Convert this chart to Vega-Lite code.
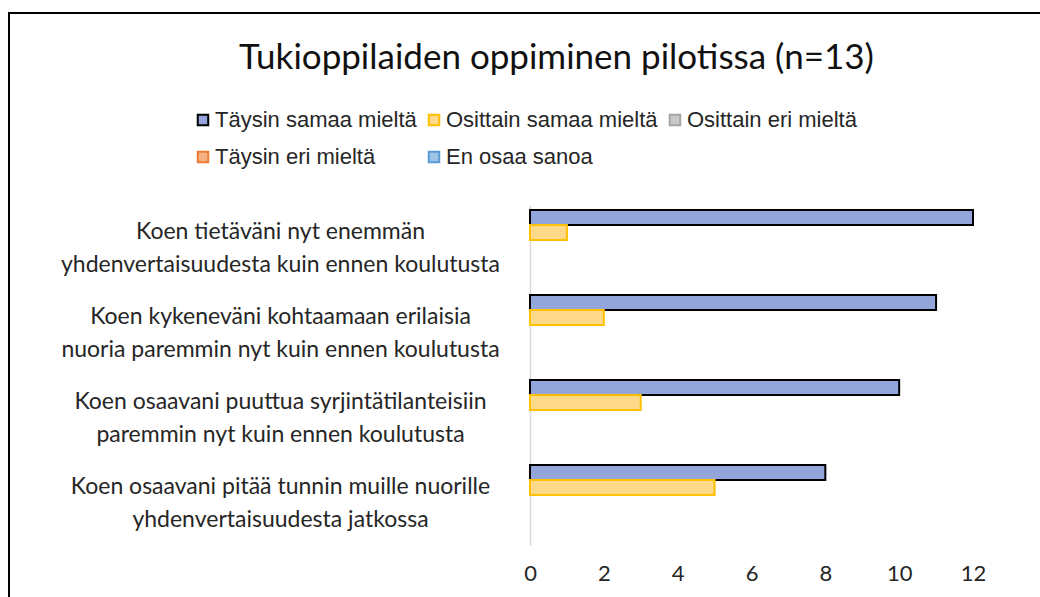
{
  "$schema": "https://vega.github.io/schema/vega-lite/v6.json",
  "autosize": {"type": "none"},
  "width": 1045,
  "height": 610,
  "padding": {"left": 9, "top": 13, "right": -14, "bottom": -26},
  "background": "white",
  "title": {
    "text": "Tukioppilaiden oppiminen pilotissa (n=13)",
    "font": "Lato",
    "fontSize": 35,
    "fontWeight": "normal",
    "color": "#111111",
    "frame": "group",
    "anchor": "middle",
    "baseline": "alphabetic",
    "offset": -59,
    "dy": 32,
    "dx": 25
  },
  "data": {
    "values": [
      {"kysymys": "Koen tietäväni nyt enemmän|yhdenvertaisuudesta kuin ennen koulutusta", "vastaus": "Täysin samaa mieltä", "lkm": 12},
      {"kysymys": "Koen tietäväni nyt enemmän|yhdenvertaisuudesta kuin ennen koulutusta", "vastaus": "Osittain samaa mieltä", "lkm": 1},
      {"kysymys": "Koen tietäväni nyt enemmän|yhdenvertaisuudesta kuin ennen koulutusta", "vastaus": "Osittain eri mieltä", "lkm": 0},
      {"kysymys": "Koen tietäväni nyt enemmän|yhdenvertaisuudesta kuin ennen koulutusta", "vastaus": "Täysin eri mieltä", "lkm": 0},
      {"kysymys": "Koen tietäväni nyt enemmän|yhdenvertaisuudesta kuin ennen koulutusta", "vastaus": "En osaa sanoa", "lkm": 0},
      {"kysymys": "Koen kykeneväni kohtaamaan erilaisia|nuoria paremmin nyt kuin ennen koulutusta", "vastaus": "Täysin samaa mieltä", "lkm": 11},
      {"kysymys": "Koen kykeneväni kohtaamaan erilaisia|nuoria paremmin nyt kuin ennen koulutusta", "vastaus": "Osittain samaa mieltä", "lkm": 2},
      {"kysymys": "Koen kykeneväni kohtaamaan erilaisia|nuoria paremmin nyt kuin ennen koulutusta", "vastaus": "Osittain eri mieltä", "lkm": 0},
      {"kysymys": "Koen kykeneväni kohtaamaan erilaisia|nuoria paremmin nyt kuin ennen koulutusta", "vastaus": "Täysin eri mieltä", "lkm": 0},
      {"kysymys": "Koen kykeneväni kohtaamaan erilaisia|nuoria paremmin nyt kuin ennen koulutusta", "vastaus": "En osaa sanoa", "lkm": 0},
      {"kysymys": "Koen osaavani puuttua syrjintätilanteisiin|paremmin nyt kuin ennen koulutusta", "vastaus": "Täysin samaa mieltä", "lkm": 10},
      {"kysymys": "Koen osaavani puuttua syrjintätilanteisiin|paremmin nyt kuin ennen koulutusta", "vastaus": "Osittain samaa mieltä", "lkm": 3},
      {"kysymys": "Koen osaavani puuttua syrjintätilanteisiin|paremmin nyt kuin ennen koulutusta", "vastaus": "Osittain eri mieltä", "lkm": 0},
      {"kysymys": "Koen osaavani puuttua syrjintätilanteisiin|paremmin nyt kuin ennen koulutusta", "vastaus": "Täysin eri mieltä", "lkm": 0},
      {"kysymys": "Koen osaavani puuttua syrjintätilanteisiin|paremmin nyt kuin ennen koulutusta", "vastaus": "En osaa sanoa", "lkm": 0},
      {"kysymys": "Koen osaavani pitää tunnin muille nuorille|yhdenvertaisuudesta jatkossa", "vastaus": "Täysin samaa mieltä", "lkm": 8},
      {"kysymys": "Koen osaavani pitää tunnin muille nuorille|yhdenvertaisuudesta jatkossa", "vastaus": "Osittain samaa mieltä", "lkm": 5},
      {"kysymys": "Koen osaavani pitää tunnin muille nuorille|yhdenvertaisuudesta jatkossa", "vastaus": "Osittain eri mieltä", "lkm": 0},
      {"kysymys": "Koen osaavani pitää tunnin muille nuorille|yhdenvertaisuudesta jatkossa", "vastaus": "Täysin eri mieltä", "lkm": 0},
      {"kysymys": "Koen osaavani pitää tunnin muille nuorille|yhdenvertaisuudesta jatkossa", "vastaus": "En osaa sanoa", "lkm": 0}
    ]
  },
  "mark": {"type": "bar"},
  "encoding": {
    "y": {
      "field": "kysymys",
      "type": "nominal",
      "sort": null,
      "scale": {"range": [192, 532], "paddingInner": 0.1176, "paddingOuter": 0.0588},
      "axis": {
        "title": null,
        "orient": "left",
        "offset": -521,
        "ticks": false,
        "domain": true,
        "domainColor": "#d9d9d9",
        "domainWidth": 1.5,
        "labelExpr": "split(datum.value, '|')",
        "labelAlign": "center",
        "labelBaseline": "middle",
        "labelPadding": 250,
        "labelOffset": -16,
        "labelLimit": 600,
        "labelFont": "Lato",
        "labelFontSize": 23,
        "labelLineHeight": 33,
        "labelColor": "#262626"
      }
    },
    "yOffset": {
      "field": "vastaus",
      "type": "nominal",
      "sort": null,
      "scale": {"domain": ["Täysin samaa mieltä", "Osittain samaa mieltä", "Osittain eri mieltä", "Täysin eri mieltä", "En osaa sanoa"], "paddingInner": 0, "paddingOuter": 0}
    },
    "x": {
      "field": "lkm",
      "type": "quantitative",
      "scale": {"domain": [0, 12], "range": [521, 964], "nice": false},
      "axis": {
        "title": null,
        "values": [0, 2, 4, 6, 8, 10, 12],
        "grid": false,
        "domain": false,
        "ticks": false,
        "offset": -64,
        "labelPadding": 4,
        "labelFlush": false,
        "labelFont": "Lato",
        "labelFontSize": 22,
        "labelColor": "#262626"
      }
    },
    "color": {
      "field": "vastaus",
      "type": "nominal",
      "title": null,
      "scale": {
        "domain": ["Täysin samaa mieltä", "Osittain samaa mieltä", "Osittain eri mieltä", "Täysin eri mieltä", "En osaa sanoa"],
        "range": ["#93a5da", "#ffd98a", "#c9c9c9", "#f4b183", "#9dc3e6"]
      },
      "legend": {
        "orient": "none",
        "legendX": 183,
        "legendY": 96,
        "direction": "horizontal",
        "columns": 3,
        "columnPadding": 6,
        "rowPadding": 15,
        "symbolType": "square",
        "symbolSize": 110,
        "symbolStrokeWidth": 2,
        "symbolOpacity": 1,
        "labelFont": "Liberation Sans",
        "labelFontSize": 22,
        "labelColor": "#262626",
        "labelOffset": 1,
        "labelLimit": 400
      }
    },
    "stroke": {
      "field": "vastaus",
      "type": "nominal",
      "title": null,
      "scale": {
        "domain": ["Täysin samaa mieltä", "Osittain samaa mieltä", "Osittain eri mieltä", "Täysin eri mieltä", "En osaa sanoa"],
        "range": ["#000000", "#ffc000", "#a5a5a5", "#ed7d31", "#5b9bd5"]
      }
    },
    "strokeWidth": {
      "condition": {"test": "datum.lkm > 0", "value": 2},
      "value": 0
    }
  },
  "config": {
    "view": {"stroke": "#000000", "strokeWidth": 2}
  }
}
